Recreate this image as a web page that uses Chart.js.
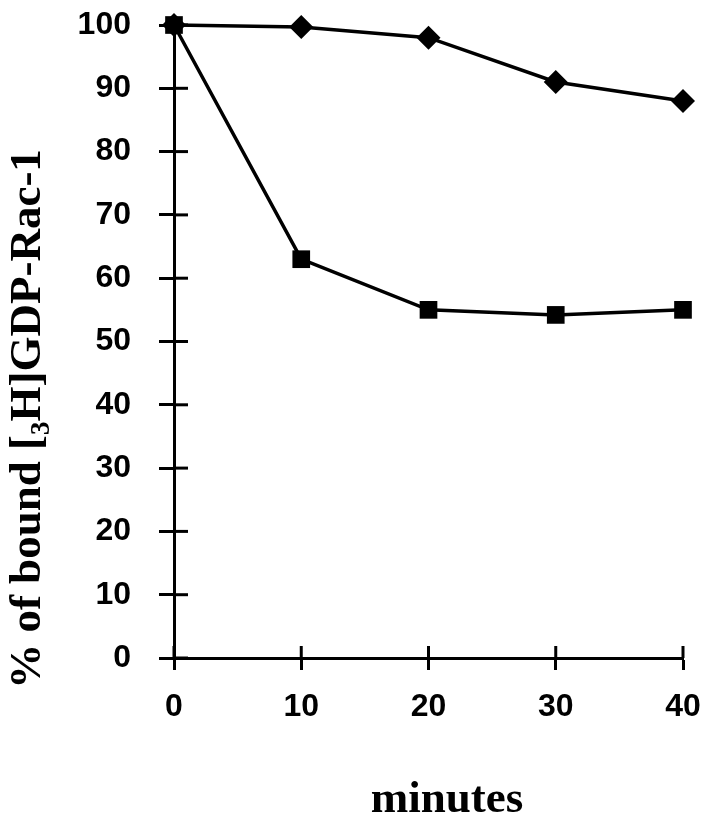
<!DOCTYPE html>
<html>
<head>
<meta charset="utf-8">
<script src="https://cdn.jsdelivr.net/npm/chart.js@4/dist/chart.umd.min.js"></script>
<style>
  html, body { margin: 0; padding: 0; background: #fff; }
  #wrap { width: 702px; height: 819px; }
</style>
</head>
<body>
<div id="wrap"><canvas id="chart" width="702" height="819"></canvas></div>
<script>
const minutes = [0, 10, 20, 30, 40];
const diamondSeries = [100, 99.7, 98, 91, 88];
const squareSeries = [100, 63, 55, 54.2, 55];
const xTicks = [0, 10, 20, 30, 40];
const yTicks = [0, 10, 20, 30, 40, 50, 60, 70, 80, 90, 100];

const xTitle = 'minutes';
const yTitle = '% of bound [\u2083H]GDP-Rac-1';

// inner half of the cross ticks + axis titles
const extras = {
    id: 'extras',
    afterDraw(chart) {
        const ctx = chart.ctx;
        const xs = chart.scales.x, ys = chart.scales.y;
        const a = chart.chartArea;
        ctx.save();
        ctx.strokeStyle = '#000';
        ctx.lineWidth = 3;
        yTicks.forEach(v => {
            const y = ys.getPixelForValue(v);
            ctx.beginPath(); ctx.moveTo(a.left, y); ctx.lineTo(a.left + 14, y); ctx.stroke();
        });
        xTicks.forEach(v => {
            const x = xs.getPixelForValue(v);
            ctx.beginPath(); ctx.moveTo(x, a.bottom); ctx.lineTo(x, a.bottom - 12); ctx.stroke();
        });
        ctx.fillStyle = '#000';
        ctx.font = 'bold 45px "Liberation Serif", "Times New Roman", serif';
        ctx.textAlign = 'center';
        ctx.textBaseline = 'alphabetic';
        ctx.fillText(xTitle, 447, 812);
        ctx.translate(40, 419);
        ctx.rotate(-Math.PI / 2);
        ctx.fillText(yTitle, 0, 0);
        ctx.restore();
    }
};

new Chart(document.getElementById('chart'), {
    type: 'line',
    data: {
        datasets: [{
            label: 'diamonds',
            data: minutes.map((m, i) => ({x: m, y: diamondSeries[i]})),
            borderColor: '#000',
            backgroundColor: '#000',
            borderWidth: 3.5,
            pointStyle: 'rectRot',
            pointRadius: 12,
            pointBorderWidth: 0,
            clip: false
        }, {
            label: 'squares',
            data: minutes.map((m, i) => ({x: m, y: squareSeries[i]})),
            borderColor: '#000',
            backgroundColor: '#000',
            borderWidth: 3.5,
            pointStyle: 'rect',
            pointRadius: 12.5,
            pointBorderWidth: 0,
            clip: false
        }]
    },
    options: {
        responsive: false,
        animation: false,
        layout: { autoPadding: false, padding: { left: 0, top: 25, right: 19, bottom: 0 } },
        plugins: { legend: { display: false }, tooltip: { enabled: false } },
        scales: {
            x: {
                type: 'linear', min: 0, max: 40,
                afterFit: s => { s.height = 161; s.paddingLeft = 0; s.paddingRight = 0; },
                afterBuildTicks: s => { s.ticks = xTicks.map(v => ({value: v})); },
                grid: { drawOnChartArea: false, tickLength: 12, tickWidth: 3, color: '#000' },
                border: { color: '#000', width: 3 },
                ticks: { color: '#000', padding: 18, maxRotation: 0,
                    font: { family: '"Liberation Sans", Arial, sans-serif', size: 32, weight: 'bold' } }
            },
            y: {
                min: 0, max: 100,
                afterFit: s => { s.width = 174; s.paddingTop = 0; s.paddingBottom = 0; },
                afterBuildTicks: s => { s.ticks = yTicks.map(v => ({value: v})); },
                grid: { drawOnChartArea: false, tickLength: 15, tickWidth: 3, color: '#000' },
                border: { color: '#000', width: 3 },
                ticks: { color: '#000', padding: 28,
                    font: { family: '"Liberation Sans", Arial, sans-serif', size: 32, weight: 'bold' } }
            }
        }
    },
    plugins: [extras]
});
</script>
</body>
</html>
